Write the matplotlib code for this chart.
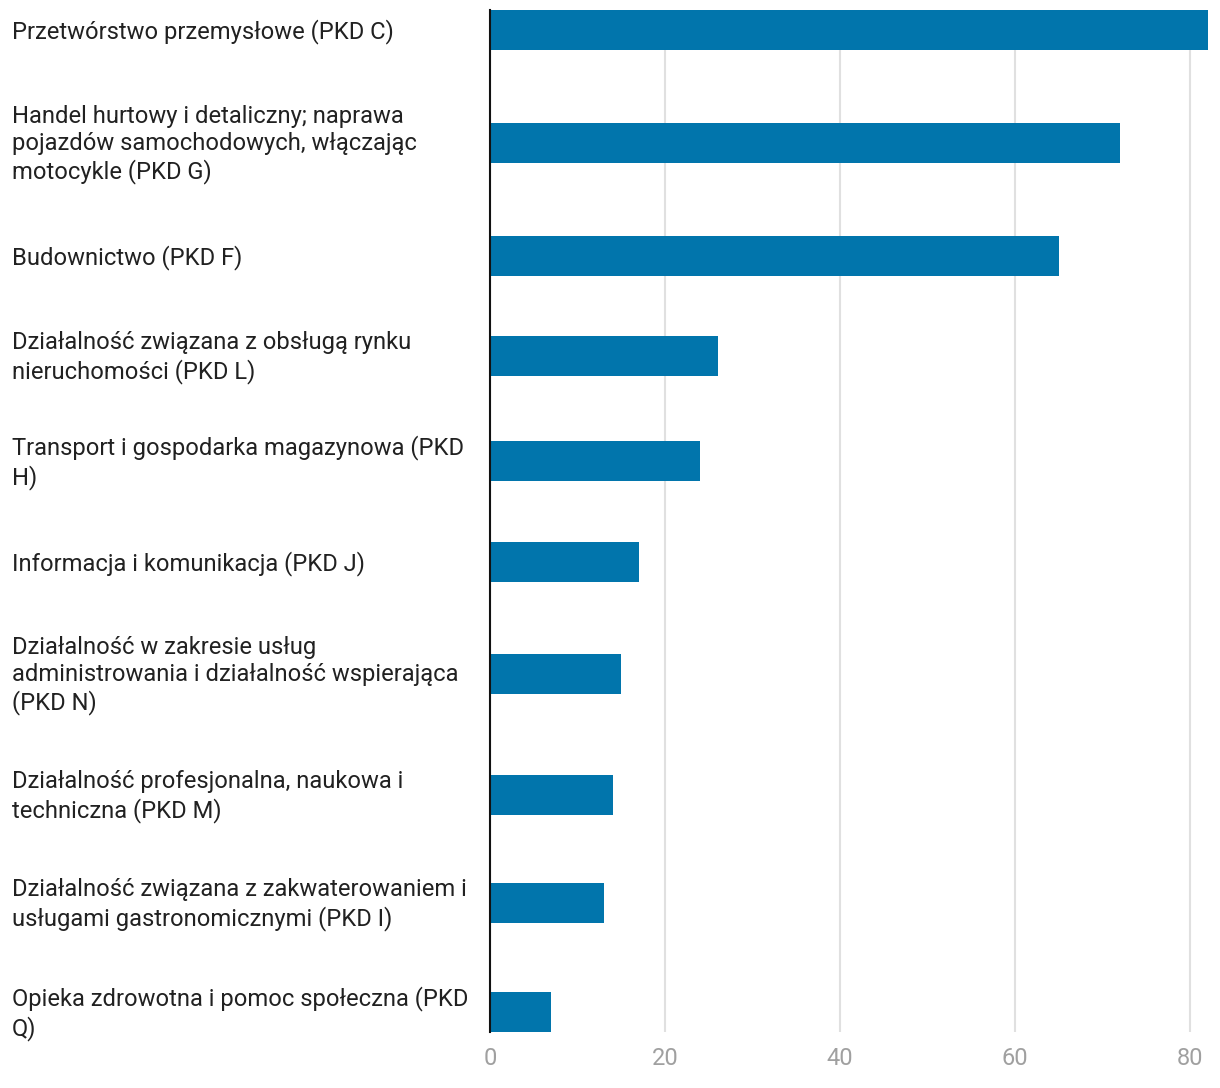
import matplotlib.pyplot as plt
from matplotlib.transforms import blended_transform_factory

plt.rcParams['font.family'] = ['Roboto', 'DejaVu Sans']

# Data
labels = [
    'Przetwórstwo przemysłowe (PKD C)',
    'Handel hurtowy i detaliczny; naprawa\npojazdów samochodowych, włączając\nmotocykle (PKD G)',
    'Budownictwo (PKD F)',
    'Działalność związana z obsługą rynku\nnieruchomości (PKD L)',
    'Transport i gospodarka magazynowa (PKD\nH)',
    'Informacja i komunikacja (PKD J)',
    'Działalność w zakresie usług\nadministrowania i działalność wspierająca\n(PKD N)',
    'Działalność profesjonalna, naukowa i\ntechniczna (PKD M)',
    'Działalność związana z zakwaterowaniem i\nusługami gastronomicznymi (PKD I)',
    'Opieka zdrowotna i pomoc społeczna (PKD\nQ)',
]
values = [82, 72, 65, 26, 24, 17, 15, 14, 13, 7]
ticks = [0, 20, 40, 60, 80]

# Layout: row centres in pixels from the top (rows have different heights)
row_y = [30, 143, 256, 356, 461, 562, 674, 795, 903, 1012]

W, H = 1220, 1088
fig = plt.figure(figsize=(W / 100, H / 100), dpi=100)
left, right, top, bottom = 490, 1207.5, 10, 1032
ax = fig.add_axes([left / W, 1 - bottom / H, (right - left) / W, (bottom - top) / H])

ax.barh(row_y, values, height=40, color='#0175ac', zorder=2)
ax.set_xlim(0, 82)
ax.set_ylim(bottom, top)

ax.set_xticks(ticks)
ax.grid(axis='x', color='#e0e0e0', linewidth=1.5, zorder=0)
ax.tick_params(axis='x', length=0, pad=11, labelsize=17, labelcolor='#a0a0a0')
ax.set_yticks([])
for s in ['top', 'right', 'bottom']:
    ax.spines[s].set_visible(False)
ax.spines['left'].set_linewidth(1.5)
ax.spines['left'].set_color('#111111')
ax.spines['left'].set_zorder(3)

# category labels sit left of the axis, centred on their bar
trans = blended_transform_factory(fig.transFigure, ax.transData)
for lab, y in zip(labels, row_y):
    ax.text(12 / W, y + 1.5, lab, transform=trans, ha='left', va='center',
            fontsize=17.1, color='#212121', linespacing=1.23, clip_on=False)

fig.savefig('out.png', dpi=100)
